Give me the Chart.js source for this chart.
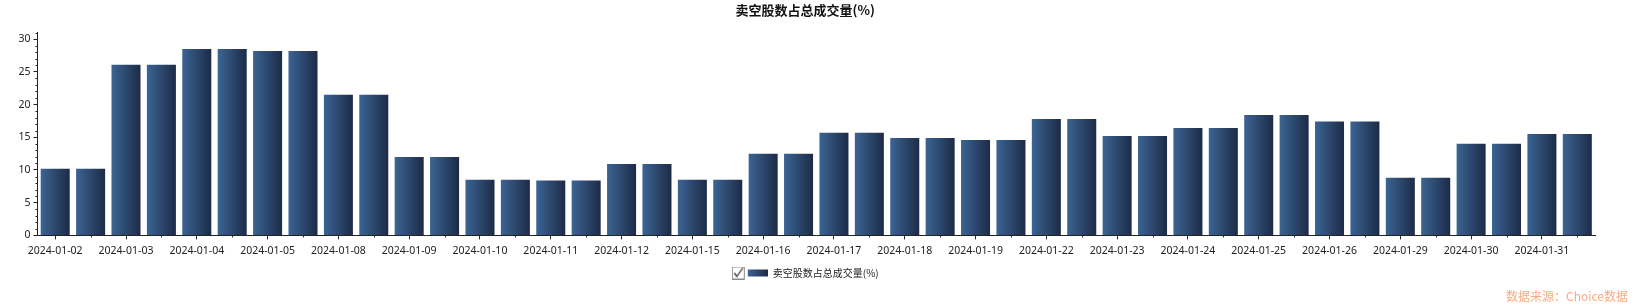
<!DOCTYPE html>
<html>
<head>
<meta charset="utf-8">
<script src="https://cdn.jsdelivr.net/npm/chart.js@4/dist/chart.umd.min.js"></script>
<style>
  html, body { margin: 0; padding: 0; background: #fff; }
  #wrap { width: 1632px; height: 304px; }
</style>
</head>
<body>
<div id="wrap"><canvas id="grafico"></canvas></div>
<script>
// categorias (cada data aparece duas vezes no original)
const categorias = [
  '2024-01-02', '2024-01-02', '2024-01-03', '2024-01-03', '2024-01-04', '2024-01-04',
  '2024-01-05', '2024-01-05', '2024-01-08', '2024-01-08', '2024-01-09', '2024-01-09',
  '2024-01-10', '2024-01-10', '2024-01-11', '2024-01-11', '2024-01-12', '2024-01-12',
  '2024-01-15', '2024-01-15', '2024-01-16', '2024-01-16', '2024-01-17', '2024-01-17',
  '2024-01-18', '2024-01-18', '2024-01-19', '2024-01-19', '2024-01-22', '2024-01-22',
  '2024-01-23', '2024-01-23', '2024-01-24', '2024-01-24', '2024-01-25', '2024-01-25',
  '2024-01-26', '2024-01-26', '2024-01-29', '2024-01-29', '2024-01-30', '2024-01-30',
  '2024-01-31', '2024-01-31'
];

// valores (%)
const vendaDescoberto = [
  10.2, 10.2, 26.1, 26.1, 28.5, 28.5, 28.2, 28.2, 21.5, 21.5, 12.0, 12.0,
  8.5, 8.5, 8.4, 8.4, 10.9, 10.9, 8.5, 8.5, 12.5, 12.5, 15.7, 15.7,
  14.9, 14.9, 14.6, 14.6, 17.8, 17.8, 15.2, 15.2, 16.4, 16.4, 18.4, 18.4,
  17.4, 17.4, 8.8, 8.8, 14.0, 14.0, 15.5, 15.5
];

const yTicks = [0, 5, 10, 15, 20, 25, 30];

const titulo = '卖空股数占总成交量(%)';
const nomeSerie = '卖空股数占总成交量(%)';
const fonte = '数据来源：Choice数据';

const corClara = 'rgb(59, 100, 148)';
const corEscura = 'rgb(29, 43, 70)';
const corEixo = '#222';
const familia = '"Noto Sans", "Noto Sans CJK SC", sans-serif';
const larguraBarra = 0.82;

// imagem da legenda: caixa marcada + amostra da cor
const icone = document.createElement('canvas');
icone.width = 36; icone.height = 13;
(function () {
  const c = icone.getContext('2d');
  c.fillStyle = '#fff';
  c.fillRect(0.5, 0.5, 12, 12);
  c.strokeStyle = '#8a8a8a';
  c.lineWidth = 1;
  c.strokeRect(0.5, 0.5, 12, 12);
  c.strokeStyle = '#333';
  c.lineWidth = 1.3;
  c.beginPath();
  c.moveTo(2.5, 6.5); c.lineTo(5, 10); c.lineTo(11, 1.5);
  c.stroke();
  const g = c.createLinearGradient(16, 0, 36, 0);
  g.addColorStop(0, corClara); g.addColorStop(1, corEscura);
  c.fillStyle = g;
  c.fillRect(16, 3, 20, 7);
})();

// gradiente horizontal por barra, calculado pela escala x
function corBarra(c) {
  const sx = c.chart.scales.x;
  if (!sx || c.dataIndex === undefined) return corEscura;
  const cx = sx.getPixelForValue(c.dataIndex);
  const w = sx.width / categorias.length * larguraBarra;
  if (!isFinite(cx) || !isFinite(w) || w <= 0) return corEscura;
  const g = c.chart.ctx.createLinearGradient(cx - w / 2, 0, cx + w / 2, 0);
  g.addColorStop(0, corClara);
  g.addColorStop(1, corEscura);
  return g;
}

// marcas menores (mais curtas) nos dois eixos + fonte dos dados
const marcaPlugin = {
  id: 'marca',
  afterDraw(chart) {
    const ctx = chart.ctx;
    const sx = chart.scales.x, sy = chart.scales.y;
    ctx.save();
    ctx.strokeStyle = corEixo;
    ctx.lineWidth = 1;
    ctx.beginPath();
    sy.ticks.forEach(t => {
      if (yTicks.includes(t.value)) return;
      const y = Math.round(sy.getPixelForValue(t.value)) + 0.5;
      ctx.moveTo(sy.right - 2, y); ctx.lineTo(sy.right, y);
    });
    categorias.forEach((c, i) => {
      if (i % 2 === 0) return;
      const x = Math.round(sx.getPixelForValue(i)) + 0.5;
      ctx.moveTo(x, sx.top); ctx.lineTo(x, sx.top + 2);
    });
    ctx.stroke();

    ctx.font = '12px "Noto Sans CJK SC", sans-serif';
    ctx.fillStyle = '#f6ac82';
    ctx.textAlign = 'right';
    ctx.textBaseline = 'middle';
    ctx.fillText(fonte, 1628, 296);
    ctx.restore();
  }
};

Chart.defaults.font.family = familia;
Chart.defaults.color = corEixo;

new Chart(document.getElementById('grafico'), {
  type: 'bar',
  data: {
    labels: categorias,
    datasets: [{
      label: nomeSerie,
      data: vendaDescoberto,
      backgroundColor: corBarra,
      barPercentage: larguraBarra,
      categoryPercentage: 1.0
    }]
  },
  options: {
    responsive: true,
    maintainAspectRatio: false,
    animation: false,
    layout: { padding: { left: 15.5, right: 37, top: 0, bottom: 16 } },
    plugins: {
      title: {
        display: true,
        text: titulo,
        color: '#111',
        font: { size: 13, weight: 'bold', family: '"Noto Sans CJK SC", sans-serif' },
        padding: { top: 2, bottom: 15 }
      },
      legend: {
        position: 'bottom',
        labels: {
          usePointStyle: true,
          pointStyle: icone,
          pointStyleWidth: 36,
          font: { size: 10, family: '"Noto Sans CJK SC", sans-serif' },
          color: corEixo,
          padding: 6
        }
      },
      tooltip: { enabled: false }
    },
    scales: {
      x: {
        offset: true,
        grid: {
          display: true, drawOnChartArea: false, offset: false, tickLength: 4,
          color: corEixo,
          tickColor: c => (c.index % 2 === 0 ? corEixo : 'rgba(0,0,0,0)')
        },
        border: { color: corEixo },
        ticks: {
          autoSkip: false,
          maxRotation: 0,
          padding: 5,
          font: { size: 10.5 },
          callback: (v, i) => (i % 2 === 0 ? categorias[i] : '')
        }
      },
      y: {
        min: 0,
        max: 31,
        grid: {
          display: true, drawOnChartArea: false, tickLength: 4,
          color: corEixo,
          tickColor: c => (c.tick && yTicks.includes(c.tick.value) ? corEixo : 'rgba(0,0,0,0)')
        },
        border: { color: corEixo },
        afterBuildTicks: axis => {
          const t = [];
          for (let v = 0; v <= 31; v++) t.push({ value: v });
          axis.ticks = t;
        },
        ticks: {
          autoSkip: false,
          padding: 3,
          font: { size: 10.5 },
          callback: v => (yTicks.includes(v) ? v : '')
        }
      }
    }
  },
  plugins: [marcaPlugin]
});
</script>
</body>
</html>
